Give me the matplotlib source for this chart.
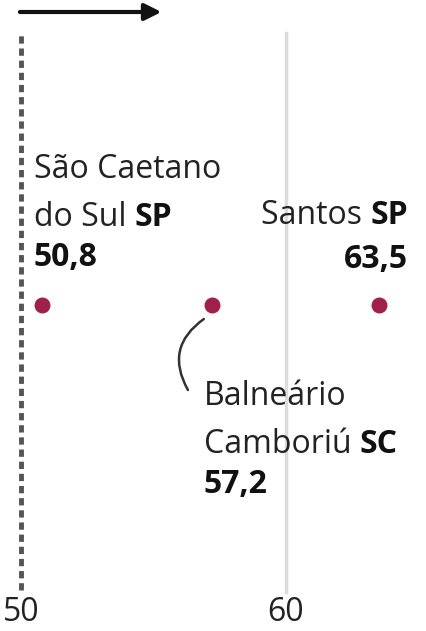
import matplotlib.pyplot as plt
import numpy as np

plt.rcParams['font.family'] = ['Open Sans', 'DejaVu Sans']

# data
cities = ["São Caetano\ndo Sul", "Balneário\nCamboriú", "Santos"]
states = ["SP", "SC", "SP"]
values = [50.8, 57.2, 63.5]
labels = ["50,8", "57,2", "63,5"]
ref_value = 50
grid_value = 60
ticks = [50, 60]
tick_labels = ["50", "60"]

dot_color = "#a0204c"

fig = plt.figure(figsize=(4.26, 6.31), dpi=100)
ax = fig.add_axes([0, 0, 1, 1])
# x: 50 sits at 21px, 60 at 286px; y in pixels, 0 = row of dots
ax.set_xlim(50 - 21 / 26.5, 50 + 405 / 26.5)
ax.set_ylim(-326, 305)
ax.axis("off")

ax.plot([ref_value, ref_value], [-285, 272], color="#555555", lw=3.5,
        dashes=(1.5, 1.0), solid_capstyle="butt")
ax.plot([grid_value, grid_value], [-287, 272], color="#dcdcdc", lw=2.5)

ax.annotate("", xy=(55.3, 293), xytext=(49.96, 293),
            arrowprops=dict(arrowstyle="-|>,head_length=1.0,head_width=0.5",
                            color="#111111", lw=3, shrinkA=0, shrinkB=0))

ax.scatter(values, np.zeros(len(values)), s=110, color=dot_color, zorder=3)

for t, tl in zip(ticks, tick_labels):
    ax.text(t, -324, tl, ha="center", va="bottom", fontsize=23, color="#222222")

fs = 23


def label(x, y, name, state, val, ha, step=48, gap=40):
    lines = name.split("\n")
    for i, ln in enumerate(lines):
        last = i == len(lines) - 1
        yy = y - i * step
        if last and ha == "left":
            t = ax.text(x, yy, ln + " ", ha="left", va="baseline", fontsize=fs, color="#222222")
            ax.annotate(state, xy=(1, 0), xycoords=t, ha="left", va="bottom",
                        fontsize=fs, fontweight="bold", color="#111111")
        elif last:
            t = ax.text(x, yy, state, ha="right", va="baseline", fontsize=fs,
                        fontweight="bold", color="#111111")
            ax.annotate(ln + " ", xy=(0, 0), xycoords=t, ha="right", va="bottom",
                        fontsize=fs, color="#222222")
        else:
            ax.text(x, yy, ln, ha=ha, va="baseline", fontsize=fs, color="#222222")
    ax.text(x, y - (len(lines) - 1) * step - gap, val, ha=ha, va="baseline", fontsize=fs,
            fontweight="bold", color="#111111")


px = 1 / 26.5
label(50 + 13 * px, 305 - 178, cities[0], states[0], labels[0], "left")
label(values[1] - 8 * px, 305 - 405, cities[1], states[1], labels[1], "left")
label(50 + 387 * px, 305 - 224, cities[2], states[2], labels[2], "right", gap=44)

ax.annotate("", xy=(values[1] - 0.3, -14), xytext=(values[1] - 0.9, -85),
            arrowprops=dict(arrowstyle="-", color="#333333", lw=1.8,
                            connectionstyle="arc3,rad=-0.45", shrinkA=0, shrinkB=0))

fig.savefig("out.png", dpi=100)
